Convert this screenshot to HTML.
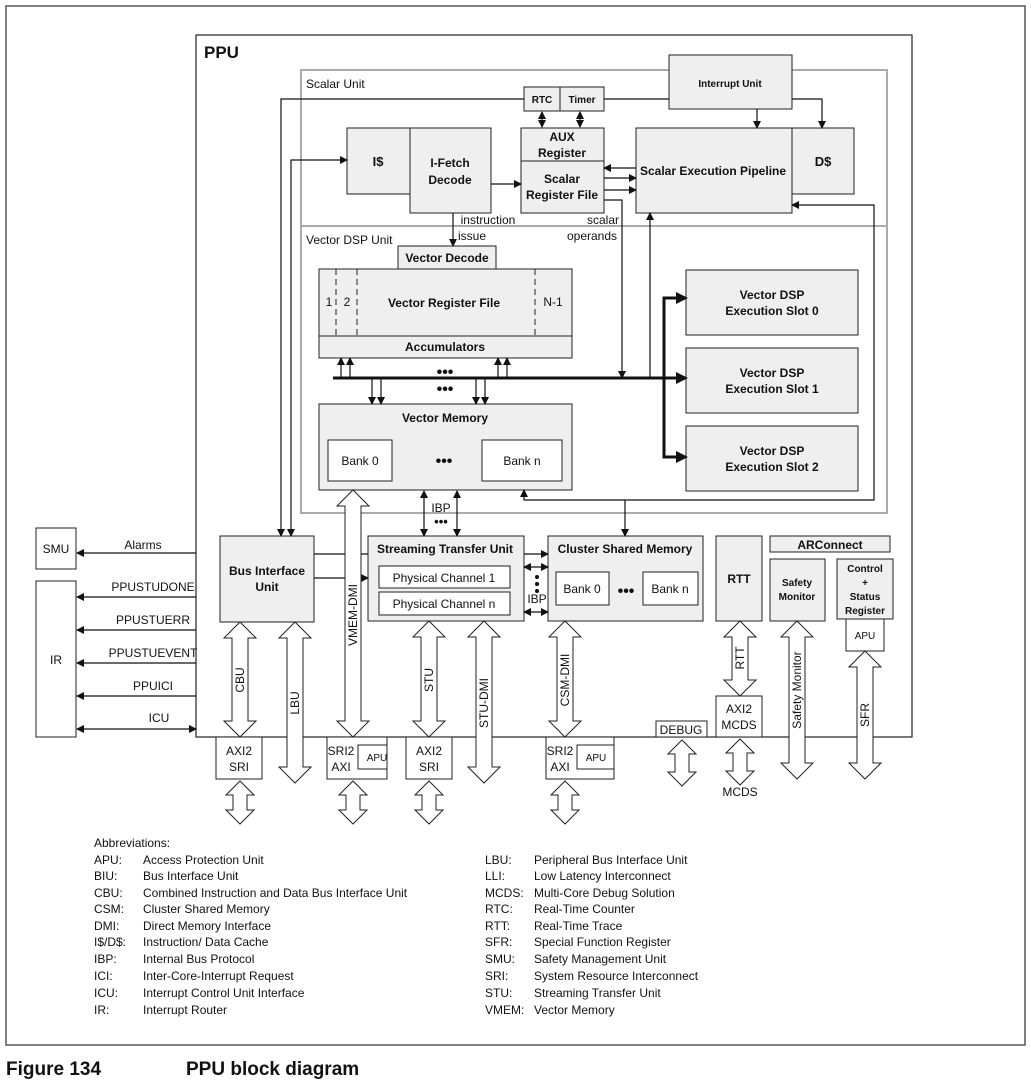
<!DOCTYPE html>
<html><head><meta charset="utf-8"><style>
html,body{margin:0;padding:0;background:#fff}
svg{display:block}
text{font-family:"Liberation Sans",sans-serif;fill:#111}
.b{font-weight:bold}
</style></head><body>
<svg width="1031" height="1085" viewBox="0 0 1031 1085" xmlns="http://www.w3.org/2000/svg">
<defs>
<marker id="a" markerWidth="8" markerHeight="8" refX="7" refY="4" orient="auto" markerUnits="userSpaceOnUse"><path d="M0,0 L8,4 L0,8 z" fill="#111"/></marker>
<marker id="s" markerWidth="8" markerHeight="8" refX="1" refY="4" orient="auto" markerUnits="userSpaceOnUse"><path d="M8,0 L0,4 L8,8 z" fill="#111"/></marker>
<marker id="A" markerWidth="12" markerHeight="12" refX="10" refY="6" orient="auto" markerUnits="userSpaceOnUse"><path d="M0,0 L12,6 L0,12 z" fill="#111"/></marker>
</defs>
<rect x="6" y="6" width="1019" height="1039" fill="none" stroke="#555" stroke-width="1.5"/>
<!-- PPU -->
<rect x="196" y="35" width="716" height="702" fill="#fff" stroke="#222" stroke-width="1.2"/>
<text x="204" y="58" font-size="17" class="b">PPU</text>
<!-- Scalar / Vector units -->
<rect x="301" y="70" width="586" height="156" fill="none" stroke="#aaa" stroke-width="2"/>
<rect x="301" y="226" width="586" height="287" fill="none" stroke="#aaa" stroke-width="2"/>
<text x="306" y="88" font-size="12">Scalar Unit</text>
<text x="306" y="244" font-size="12">Vector DSP Unit</text>
<g stroke="#222" stroke-width="1" fill="#efefef">
<rect x="524" y="87" width="36" height="24"/><rect x="560" y="87" width="44" height="24"/>
<rect x="669" y="55" width="123" height="54"/>
<rect x="347" y="128" width="63" height="66"/><rect x="410" y="128" width="81" height="85"/>
<rect x="521" y="128" width="83" height="33"/><rect x="521" y="161" width="83" height="52"/>
<rect x="636" y="128" width="156" height="85"/><rect x="792" y="128" width="62" height="66"/>
<rect x="398" y="246" width="98" height="23"/>
<rect x="319" y="269" width="253" height="67"/><rect x="319" y="336" width="253" height="22"/>
<rect x="686" y="270" width="172" height="65"/><rect x="686" y="348" width="172" height="65"/><rect x="686" y="426" width="172" height="65"/>
<rect x="319" y="404" width="253" height="86"/>
<rect x="220" y="536" width="94" height="86"/>
<rect x="368" y="536" width="156" height="85"/>
<rect x="548" y="536" width="155" height="85"/>
<rect x="716" y="536" width="46" height="85"/>
<rect x="770" y="536" width="120" height="16"/>
<rect x="770" y="559" width="55" height="62"/>
<rect x="837" y="559" width="56" height="60"/>
</g>
<g stroke="#222" stroke-width="1" fill="#fff">
<rect x="328" y="440" width="64" height="41"/><rect x="482" y="440" width="80" height="41"/>
<rect x="379" y="566" width="131" height="22"/><rect x="379" y="592" width="131" height="23"/>
<rect x="556" y="572" width="53" height="33"/><rect x="643" y="572" width="55" height="33"/>
<rect x="846" y="619" width="38" height="32"/>
<rect x="36" y="528" width="40" height="41"/><rect x="36" y="581" width="40" height="156"/>
<rect x="216" y="737" width="46" height="42"/>
<rect x="327" y="737" width="60" height="42"/><rect x="358" y="745" width="29" height="24"/>
<rect x="406" y="737" width="46" height="42"/>
<rect x="546" y="737" width="68" height="42"/><rect x="577" y="745" width="37" height="24"/>
<rect x="656" y="721" width="51" height="16"/>
<rect x="716" y="696" width="46" height="41"/>
</g>
<g stroke="#222" stroke-width="1" stroke-dasharray="6,4">
<line x1="336" y1="269" x2="336" y2="336"/><line x1="357" y1="269" x2="357" y2="336"/><line x1="535" y1="269" x2="535" y2="336"/>
</g>
<!-- connectors -->
<g stroke="#111" stroke-width="1.2" fill="none">
<polyline points="524,99 281,99 281,536" marker-end="url(#a)"/>
<polyline points="291,536 291,160 347,160" marker-end="url(#a)" marker-start="url(#s)"/>
<line x1="604" y1="99" x2="669" y2="99"/>
<line x1="542" y1="112" x2="542" y2="127" marker-end="url(#a)" marker-start="url(#s)"/>
<line x1="580" y1="112" x2="580" y2="127" marker-end="url(#a)" marker-start="url(#s)"/>
<line x1="757" y1="109" x2="757" y2="128" marker-end="url(#a)"/>
<polyline points="792,99 822,99 822,128" marker-end="url(#a)"/>
<line x1="491" y1="184" x2="521" y2="184" marker-end="url(#a)"/>
<line x1="636" y1="168" x2="604" y2="168" marker-end="url(#a)"/>
<line x1="604" y1="178" x2="636" y2="178" marker-end="url(#a)"/>
<line x1="604" y1="190" x2="636" y2="190" marker-end="url(#a)"/>
<polyline points="604,200 622,200 622,378" marker-end="url(#a)"/>
<line x1="650" y1="378" x2="650" y2="213" marker-end="url(#a)"/>
<line x1="453" y1="213" x2="453" y2="246" marker-end="url(#a)"/>
<polyline points="792,205 874,205 874,500 524,500 524,490" marker-start="url(#s)" marker-end="url(#a)"/>
<line x1="625" y1="500" x2="625" y2="536" marker-end="url(#a)"/>
<line x1="341" y1="378" x2="341" y2="358" marker-end="url(#a)"/><line x1="350" y1="378" x2="350" y2="358" marker-end="url(#a)"/>
<line x1="498" y1="378" x2="498" y2="358" marker-end="url(#a)"/><line x1="507" y1="378" x2="507" y2="358" marker-end="url(#a)"/>
<line x1="372" y1="378" x2="372" y2="404" marker-end="url(#a)"/><line x1="381" y1="378" x2="381" y2="404" marker-end="url(#a)"/>
<line x1="476" y1="378" x2="476" y2="404" marker-end="url(#a)"/><line x1="485" y1="378" x2="485" y2="404" marker-end="url(#a)"/>
<line x1="424" y1="491" x2="424" y2="536" marker-start="url(#s)" marker-end="url(#a)"/>
<line x1="457" y1="491" x2="457" y2="536" marker-start="url(#s)" marker-end="url(#a)"/>
<line x1="314" y1="554" x2="368" y2="554"/>
<line x1="314" y1="578" x2="368" y2="578" marker-end="url(#a)"/>
<line x1="524" y1="554" x2="548" y2="554" marker-end="url(#a)"/>
<line x1="524" y1="567" x2="548" y2="567" marker-start="url(#s)" marker-end="url(#a)"/>
<line x1="524" y1="612" x2="548" y2="612" marker-start="url(#s)" marker-end="url(#a)"/>
<line x1="196" y1="553" x2="77" y2="553" marker-end="url(#a)"/>
<line x1="196" y1="597" x2="77" y2="597" marker-end="url(#a)"/>
<line x1="196" y1="630" x2="77" y2="630" marker-end="url(#a)"/>
<line x1="196" y1="663" x2="77" y2="663" marker-end="url(#a)"/>
<line x1="196" y1="696" x2="77" y2="696" marker-end="url(#a)"/>
<line x1="77" y1="729" x2="196" y2="729" marker-start="url(#s)" marker-end="url(#a)"/>
</g>
<g stroke="#111" stroke-width="3" fill="none">
<line x1="333" y1="378" x2="686" y2="378" marker-end="url(#A)"/>
<polyline points="686,298 664,298 664,457 686,457" />
<line x1="670" y1="298" x2="686" y2="298" marker-end="url(#A)"/>
<line x1="670" y1="457" x2="686" y2="457" marker-end="url(#A)"/>
</g>
<!-- double arrows -->
<g fill="#fff" stroke="#222" stroke-width="1">
<polygon points="240,622 256,638 248,638 248,721 256,721 240,737 224,721 232,721 232,638 224,638"/>
<polygon points="295,622 311,638 303,638 303,767 311,767 295,783 279,767 287,767 287,638 279,638"/>
<polygon points="353,490 369,506 361,506 361,721 369,721 353,737 337,721 345,721 345,506 337,506"/>
<polygon points="429,621 445,637 437,637 437,721 445,721 429,737 413,721 421,721 421,637 413,637"/>
<polygon points="484,621 500,637 492,637 492,767 500,767 484,783 468,767 476,767 476,637 468,637"/>
<polygon points="565,621 581,637 573,637 573,721 581,721 565,737 549,721 557,721 557,637 549,637"/>
<polygon points="740,621 756,637 748,637 748,680 756,680 740,696 724,680 732,680 732,637 724,637"/>
<polygon points="797,621 813,637 805,637 805,763 813,763 797,779 781,763 789,763 789,637 781,637"/>
<polygon points="865,651 881,667 873,667 873,763 881,763 865,779 849,763 857,763 857,667 849,667"/>
<polygon points="240,781 254,795 247,795 247,810 254,810 240,824 226,810 233,810 233,795 226,795"/>
<polygon points="353,781 367,795 360,795 360,810 367,810 353,824 339,810 346,810 346,795 339,795"/>
<polygon points="429,781 443,795 436,795 436,810 443,810 429,824 415,810 422,810 422,795 415,795"/>
<polygon points="565,781 579,795 572,795 572,810 579,810 565,824 551,810 558,810 558,795 551,795"/>
<polygon points="682,740 696,754 689,754 689,772 696,772 682,786 668,772 675,772 675,754 668,754"/>
<polygon points="740,739 754,753 747,753 747,771 754,771 740,785 726,771 733,771 733,753 726,753"/>
</g>
<!-- labels -->
<g font-size="11" class="b" text-anchor="middle">
<text x="542" y="103" font-size="10" class="b">RTC</text><text x="582" y="103" font-size="10" class="b">Timer</text>
<text x="730" y="87" font-size="10" class="b">Interrupt Unit</text>
<text x="378" y="166" font-size="13" class="b">I$</text>
<text x="450" y="167" font-size="12" class="b">I-Fetch</text><text x="450" y="184" font-size="12" class="b">Decode</text>
<text x="562" y="141" font-size="12" class="b">AUX</text><text x="562" y="157" font-size="12" class="b">Register</text>
<text x="562" y="183" font-size="12" class="b">Scalar</text><text x="562" y="199" font-size="12" class="b">Register File</text>
<text x="713" y="175" font-size="12" class="b">Scalar Execution Pipeline</text>
<text x="823" y="166" font-size="13" class="b">D$</text>
<text x="447" y="262" font-size="12" class="b">Vector Decode</text>
<text x="444" y="307" font-size="12" class="b">Vector Register File</text>
<text x="445" y="351" font-size="12" class="b">Accumulators</text>
<text x="445" y="422" font-size="12" class="b">Vector Memory</text>
<text x="772" y="299" font-size="12" class="b">Vector DSP</text><text x="772" y="315" font-size="12" class="b">Execution Slot 0</text>
<text x="772" y="377" font-size="12" class="b">Vector DSP</text><text x="772" y="393" font-size="12" class="b">Execution Slot 1</text>
<text x="772" y="455" font-size="12" class="b">Vector DSP</text><text x="772" y="471" font-size="12" class="b">Execution Slot 2</text>
<text x="267" y="575" font-size="12" class="b">Bus Interface</text><text x="267" y="591" font-size="12" class="b">Unit</text>
<text x="445" y="553" font-size="12" class="b">Streaming Transfer Unit</text>
<text x="625" y="553" font-size="12" class="b">Cluster Shared Memory</text>
<text x="739" y="583" font-size="12" class="b">RTT</text>
<text x="830" y="549" font-size="12" class="b">ARConnect</text>
<text x="797" y="586" font-size="10" class="b">Safety</text><text x="797" y="600" font-size="10" class="b">Monitor</text>
<text x="865" y="572" font-size="10" class="b">Control</text><text x="865" y="586" font-size="10" class="b">+</text><text x="865" y="600" font-size="10" class="b">Status</text><text x="865" y="614" font-size="10" class="b">Register</text>
</g>
<g font-size="12" text-anchor="middle">
<text x="329" y="306">1</text><text x="347" y="306">2</text><text x="553" y="306">N-1</text>
<text x="360" y="465">Bank 0</text><text x="522" y="465">Bank n</text>
<text x="444" y="582">Physical Channel 1</text><text x="444" y="608">Physical Channel n</text>
<text x="582" y="593">Bank 0</text><text x="670" y="593">Bank n</text>
<text x="56" y="553">SMU</text><text x="56" y="664">IR</text>
<text x="239" y="755">AXI2</text><text x="239" y="771">SRI</text>
<text x="341" y="755">SRI2</text><text x="341" y="771">AXI</text><text x="377" y="761" font-size="10">APU</text>
<text x="429" y="755">AXI2</text><text x="429" y="771">SRI</text>
<text x="560" y="755">SRI2</text><text x="560" y="771">AXI</text><text x="596" y="761" font-size="10">APU</text>
<text x="865" y="639" font-size="10">APU</text>
<text x="681" y="734">DEBUG</text>
<text x="739" y="713">AXI2</text><text x="739" y="729">MCDS</text>
<text x="740" y="796">MCDS</text>
<text x="441" y="512">IBP</text><text x="537" y="603">IBP</text>
<text x="488" y="224">instruction</text><text x="472" y="240">issue</text>
<text x="603" y="224">scalar</text><text x="592" y="240">operands</text>
<text x="143" y="549">Alarms</text>
<text x="153" y="591">PPUSTUDONE</text>
<text x="153" y="624">PPUSTUERR</text>
<text x="153" y="657">PPUSTUEVENT</text>
<text x="153" y="690">PPUICI</text>
<text x="159" y="722">ICU</text>
</g>
<g font-size="16" class="b" text-anchor="middle">
<text x="445" y="377">•••</text><text x="445" y="394">•••</text>
<text x="444" y="466">•••</text><text x="626" y="596">•••</text><text x="441" y="526" font-size="13">•••</text>
</g>
<g fill="#111"><circle cx="537" cy="577" r="2"/><circle cx="537" cy="584" r="2"/><circle cx="537" cy="591" r="2"/></g>
<g font-size="12">
<text transform="translate(244,680) rotate(-90)" text-anchor="middle">CBU</text>
<text transform="translate(299,703) rotate(-90)" text-anchor="middle">LBU</text>
<text transform="translate(357,615) rotate(-90)" text-anchor="middle">VMEM-DMI</text>
<text transform="translate(433,680) rotate(-90)" text-anchor="middle">STU</text>
<text transform="translate(488,703) rotate(-90)" text-anchor="middle">STU-DMI</text>
<text transform="translate(569,680) rotate(-90)" text-anchor="middle">CSM-DMI</text>
<text transform="translate(744,658) rotate(-90)" text-anchor="middle">RTT</text>
<text transform="translate(801,690) rotate(-90)" text-anchor="middle">Safety Monitor</text>
<text transform="translate(869,715) rotate(-90)" text-anchor="middle">SFR</text>
</g>
<g font-size="12">
<text x="94" y="847">Abbreviations:</text>
<text x="94" y="864">APU:</text><text x="143" y="864">Access Protection Unit</text>
<text x="94" y="880">BIU:</text><text x="143" y="880">Bus Interface Unit</text>
<text x="94" y="897">CBU:</text><text x="143" y="897">Combined Instruction and Data Bus Interface Unit</text>
<text x="94" y="913">CSM:</text><text x="143" y="913">Cluster Shared Memory</text>
<text x="94" y="930">DMI:</text><text x="143" y="930">Direct Memory Interface</text>
<text x="94" y="946">I$/D$:</text><text x="143" y="946">Instruction/ Data Cache</text>
<text x="94" y="963">IBP:</text><text x="143" y="963">Internal Bus Protocol</text>
<text x="94" y="980">ICI:</text><text x="143" y="980">Inter-Core-Interrupt Request</text>
<text x="94" y="997">ICU:</text><text x="143" y="997">Interrupt Control Unit Interface</text>
<text x="94" y="1014">IR:</text><text x="143" y="1014">Interrupt Router</text>
<text x="485" y="864">LBU:</text><text x="534" y="864">Peripheral Bus Interface Unit</text>
<text x="485" y="880">LLI:</text><text x="534" y="880">Low Latency Interconnect</text>
<text x="485" y="897">MCDS:</text><text x="534" y="897">Multi-Core Debug Solution</text>
<text x="485" y="913">RTC:</text><text x="534" y="913">Real-Time Counter</text>
<text x="485" y="930">RTT:</text><text x="534" y="930">Real-Time Trace</text>
<text x="485" y="946">SFR:</text><text x="534" y="946">Special Function Register</text>
<text x="485" y="963">SMU:</text><text x="534" y="963">Safety Management Unit</text>
<text x="485" y="980">SRI:</text><text x="534" y="980">System Resource Interconnect</text>
<text x="485" y="997">STU:</text><text x="534" y="997">Streaming Transfer Unit</text>
<text x="485" y="1014">VMEM:</text><text x="534" y="1014">Vector Memory</text>
</g>
<text x="6" y="1075" font-size="19" class="b">Figure 134</text>
<text x="186" y="1075" font-size="19" class="b">PPU block diagram</text>
</svg>
</body></html>
